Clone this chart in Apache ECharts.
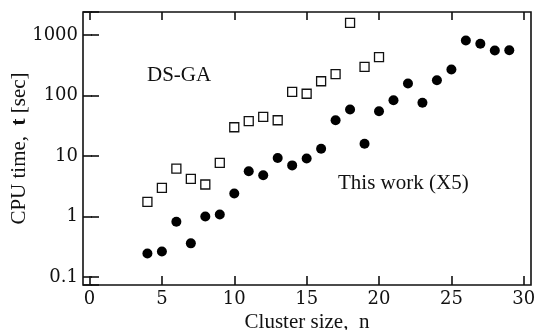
<!DOCTYPE html>
<html>
  <head>
    <meta charset="utf-8" />
    <title>CPU time vs cluster size</title>
    <script src="https://cdn.jsdelivr.net/npm/echarts@6/dist/echarts.min.js"></script>
    <style>
      body { margin: 0; background: #fff; }
      #main { width: 535px; height: 330px; }
    </style>
  </head>
  <body>
    <div id="main"></div>
    <script type="text/javascript">
      // cluster sizes
      var sizesThisWork = [4, 5, 6, 7, 8, 9, 10, 11, 12, 13, 14, 15, 16, 17, 18, 19, 20, 21, 22, 23, 24, 25, 26, 27, 28, 29];
      var sizesDSGA = [4, 5, 6, 7, 8, 9, 10, 11, 12, 13, 14, 15, 16, 17, 18, 19, 20];
      // CPU time [sec]
      var timeThisWork = [0.245, 0.264, 0.82, 0.36, 1.0, 1.08, 2.4, 5.6, 4.8, 9.3, 7.0, 9.1, 13.2, 39, 58.7, 15.9, 55, 83.6, 158, 75.7, 179, 269, 811, 716, 554, 561];
      var timeDSGA = [1.75, 2.98, 6.2, 4.2, 3.38, 7.7, 29.9, 37.6, 44.5, 39, 115, 107, 172, 225, 1590, 298, 430];
      var xTicks = [0, 5, 10, 15, 20, 25, 30];
      var yTicks = [0.1, 1, 10, 100, 1000];

      function pairs(xs, ys) {
        return xs.map(function (x, i) { return [x, ys[i]]; });
      }

      var myChart = echarts.init(document.getElementById("main"));
      var serif = "Liberation Serif";
      var numFont = "DejaVu Serif";
      var ink = "#111";
      var xMin = -0.45, xMax = 30.5, yMin = 0.0738, yMax = 2400;

      // tick-only axis, shifted into the plot so its outward ticks point inward
      function xTickAxis(pos, len) {
        return {
          type: "value", position: pos, offset: -len, min: xMin, max: xMax,
          axisLine: { show: false },
          axisTick: { show: true, length: len, customValues: xTicks, lineStyle: { color: ink, width: 1.6 } },
          axisLabel: { show: false }, splitLine: { show: false }
        };
      }
      function yTickAxis(pos, len) {
        return {
          type: "log", position: pos, offset: -len, min: yMin, max: yMax,
          axisLine: { show: false },
          axisTick: { show: true, length: len, lineStyle: { color: ink, width: 1.6 } },
          axisLabel: { show: false }, splitLine: { show: false }, minorTick: { show: false }
        };
      }

      var option = {
        animation: false,
        grid: {
          left: 83, right: 4, top: 12, bottom: 45, outerBoundsMode: "none",
          show: true, borderColor: ink, borderWidth: 1.6, backgroundColor: "transparent"
        },
        xAxis: [
          {
            type: "value",
            position: "bottom",
            min: xMin,
            max: xMax,
            axisLine: { show: false },
            axisTick: { show: false },
            axisLabel: { customValues: xTicks, margin: 5, color: ink, fontFamily: numFont, fontSize: 18 },
            splitLine: { show: false },
            name: "Cluster size,  n",
            nameLocation: "middle",
            nameGap: 27,
            nameMoveOverlap: false,
            nameTextStyle: { color: ink, fontFamily: serif, fontSize: 21 }
          },
          xTickAxis("bottom", 9),
          xTickAxis("top", 8)
        ],
        yAxis: [
          {
            type: "log",
            position: "left",
            min: yMin,
            max: yMax,
            axisLine: { show: false },
            axisTick: { show: false },
            axisLabel: {
              showMinLabel: false,
              showMaxLabel: false,
              margin: 5,
              color: ink,
              fontFamily: numFont,
              fontSize: 18,
              formatter: function (v) {
                for (var i = 0; i < yTicks.length; i++) {
                  if (Math.abs(v / yTicks[i] - 1) < 1e-6) return String(yTicks[i]);
                }
                return "";
              }
            },
            splitLine: { show: false },
            minorTick: { show: false },
            name: "CPU time,  {b|t} [sec]",
            nameLocation: "middle",
            nameGap: 53,
            nameMoveOverlap: false,
            nameTextStyle: {
              color: ink,
              fontFamily: serif,
              fontSize: 21,
              rich: { b: { fontFamily: serif, fontSize: 21, fontWeight: "bold", color: ink } }
            }
          },
          yTickAxis("left", 9),
          yTickAxis("right", 8)
        ],
        graphic: [
          {
            type: "text",
            left: 147,
            top: 65,
            style: { text: "DS-GA", fontFamily: serif, fontSize: 21, fill: ink }
          },
          {
            type: "text",
            left: 338,
            top: 173,
            style: { text: "This work (X5)", fontFamily: serif, fontSize: 21, fill: ink }
          }
        ],
        series: [
          {
            name: "DS-GA",
            type: "scatter",
            xAxisIndex: 0,
            yAxisIndex: 0,
            symbol: "rect",
            symbolSize: 9,
            itemStyle: { color: "#fff", borderColor: ink, borderWidth: 1.3, opacity: 1 },
            data: pairs(sizesDSGA, timeDSGA)
          },
          {
            name: "This work (X5)",
            type: "scatter",
            xAxisIndex: 0,
            yAxisIndex: 0,
            symbol: "circle",
            symbolSize: 10,
            itemStyle: { color: "#000", opacity: 1 },
            data: pairs(sizesThisWork, timeThisWork)
          }
        ]
      };

      myChart.setOption(option);
    </script>
  </body>
</html>
